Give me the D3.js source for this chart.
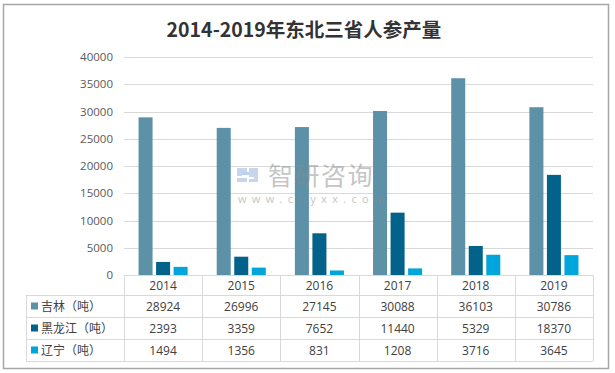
<!DOCTYPE html>
<html>
<head>
<meta charset="utf-8">
<script src="https://cdn.jsdelivr.net/npm/d3@7"></script>
<style>
  body { margin: 0; background: #fff; }
  svg { display: block; }
</style>
</head>
<body>
<svg width="615" height="373"></svg>
<script>
var years = ["2014", "2015", "2016", "2017", "2018", "2019"];
var seriesNames = ["吉林（吨）", "黑龙江（吨）", "辽宁（吨）"];
var jilin = [28924, 26996, 27145, 30088, 36103, 30786];
var heilongjiang = [2393, 3359, 7652, 11440, 5329, 18370];
var liaoning = [1494, 1356, 831, 1208, 3716, 3645];
var colors = ["#5d91a8", "#03628a", "#00a5dc"];
var yTicks = [0, 5000, 10000, 15000, 20000, 25000, 30000, 35000, 40000];

var svg = d3.select("svg"),
    width = +svg.attr("width"),
    height = +svg.attr("height");

var font = "'Open Sans', 'Noto Sans CJK SC', sans-serif";
var series = [jilin, heilongjiang, liaoning];

// outer frame
svg.append("rect")
  .attr("x", 3.5).attr("y", 4.5)
  .attr("width", 605).attr("height", 364)
  .attr("fill", "#fff")
  .attr("stroke", "#a6a6a6")
  .attr("stroke-width", 1.5);

// title
svg.append("text")
  .attr("x", 304).attr("y", 37)
  .attr("text-anchor", "middle")
  .style("font-family", "'Noto Sans CJK SC', sans-serif")
  .style("font-weight", "bold")
  .style("font-size", "19.5px")
  .style("fill", "#333333")
  .text("2014-2019年东北三省人参产量");

var plotLeft = 124, plotRight = 593, plotTop = 57, plotZero = 275;

var x0 = d3.scaleBand().domain(years).range([plotLeft, plotRight]).padding(0);
var x1 = d3.scaleBand().domain(d3.range(3)).range([0, x0.bandwidth()])
  .paddingInner(0.2).paddingOuter(0.83);
var y = d3.scaleLinear().domain([0, 40000]).range([plotZero, plotTop]);

// gridlines
svg.append("g")
  .selectAll("line")
  .data(yTicks)
  .enter().append("line")
  .attr("x1", plotLeft).attr("x2", plotRight)
  .attr("y1", function(d) { return Math.round(y(d)) + 0.5; })
  .attr("y2", function(d) { return Math.round(y(d)) + 0.5; })
  .style("stroke", "#d9d9d9")
  .style("stroke-width", 1);

// y labels
svg.append("g")
  .selectAll("text")
  .data(yTicks)
  .enter().append("text")
  .attr("x", 113)
  .attr("y", function(d) { return y(d) + 4; })
  .attr("text-anchor", "end")
  .style("font-family", font)
  .style("font-size", "11.5px")
  .style("fill", "#595959")
  .text(function(d) { return d; });

// bars
var groups = svg.append("g")
  .selectAll("g")
  .data(years)
  .enter().append("g")
  .attr("transform", function(d) { return "translate(" + x0(d) + ",0)"; });

groups.selectAll("rect")
  .data(function(d, i) { return series.map(function(s, k) { return { k: k, v: s[i] }; }); })
  .enter().append("rect")
  .attr("x", function(d) { return x1(d.k); })
  .attr("width", x1.bandwidth())
  .attr("y", function(d) { return y(d.v); })
  .attr("height", function(d) { return plotZero - y(d.v); })
  .style("fill", function(d) { return colors[d.k]; });

// watermark (semi-transparent, sits over the bars)
var wm = svg.append("g").attr("opacity", 0.5);
wm.append("path")
  .attr("d", "M237,168h10v6h-5v2h-5z M249,168h9v14h-9v-3h5v-2h-5z M237,178h10v4h-10z")
  .attr("fill", "#93acd6");
wm.append("rect").attr("x", 242).attr("y", 172).attr("width", 7).attr("height", 3).attr("fill", "#7aa6de");
wm.append("text")
  .attr("x", 268).attr("y", 185)
  .style("font-family", "'Noto Sans CJK SC', sans-serif")
  .style("font-size", "25px")
  .style("letter-spacing", "1.5px")
  .style("fill", "#8c8c8c")
  .text("智研咨询");
wm.append("text")
  .attr("x", 238).attr("y", 203)
  .style("font-family", font)
  .style("font-size", "11px")
  .style("letter-spacing", "5.3px")
  .style("fill", "#8c8c8c")
  .text("www.chyxx.com");

// data table
var tableLeft = 26;
var rowY = [275, 295, 317, 339, 361];
var grid = svg.append("g").style("stroke", "#d9d9d9").style("stroke-width", 1);

grid.append("line").attr("x1", plotLeft).attr("x2", plotRight).attr("y1", 275.5).attr("y2", 275.5);
rowY.slice(1).forEach(function(ry) {
  grid.append("line").attr("x1", tableLeft).attr("x2", plotRight)
    .attr("y1", ry + 0.5).attr("y2", ry + 0.5);
});
grid.append("line").attr("x1", tableLeft + 0.5).attr("x2", tableLeft + 0.5)
  .attr("y1", 295).attr("y2", 361);
years.forEach(function(yr) {
  var xx = Math.round(x0(yr)) + 0.5;
  grid.append("line").attr("x1", xx).attr("x2", xx).attr("y1", 275).attr("y2", 361);
});
grid.append("line").attr("x1", plotRight + 0.5).attr("x2", plotRight + 0.5).attr("y1", 275).attr("y2", 361);

// header years
svg.append("g")
  .selectAll("text")
  .data(years)
  .enter().append("text")
  .attr("x", function(d) { return x0(d) + x0.bandwidth() / 2; })
  .attr("y", 290)
  .attr("text-anchor", "middle")
  .style("font-family", font)
  .style("font-size", "12px")
  .style("fill", "#404040")
  .text(function(d) { return d; });

series.forEach(function(s, k) {
  var cy = (rowY[k + 1] + rowY[k + 2]) / 2;
  svg.append("rect")
    .attr("x", 31).attr("y", cy - 3.5)
    .attr("width", 7).attr("height", 7)
    .style("fill", colors[k]);
  svg.append("text")
    .attr("x", 41).attr("y", cy + 4.5)
    .style("font-family", "'Noto Sans CJK SC', sans-serif")
    .style("font-size", "12px")
    .style("fill", "#404040")
    .text(seriesNames[k]);
  svg.append("g")
    .selectAll("text")
    .data(s)
    .enter().append("text")
    .attr("x", function(d, i) { return x0(years[i]) + x0.bandwidth() / 2; })
    .attr("y", cy + 4.5)
    .attr("text-anchor", "middle")
    .style("font-family", font)
    .style("font-size", "12px")
    .style("fill", "#404040")
    .text(function(d) { return d; });
});
</script>
</body>
</html>
